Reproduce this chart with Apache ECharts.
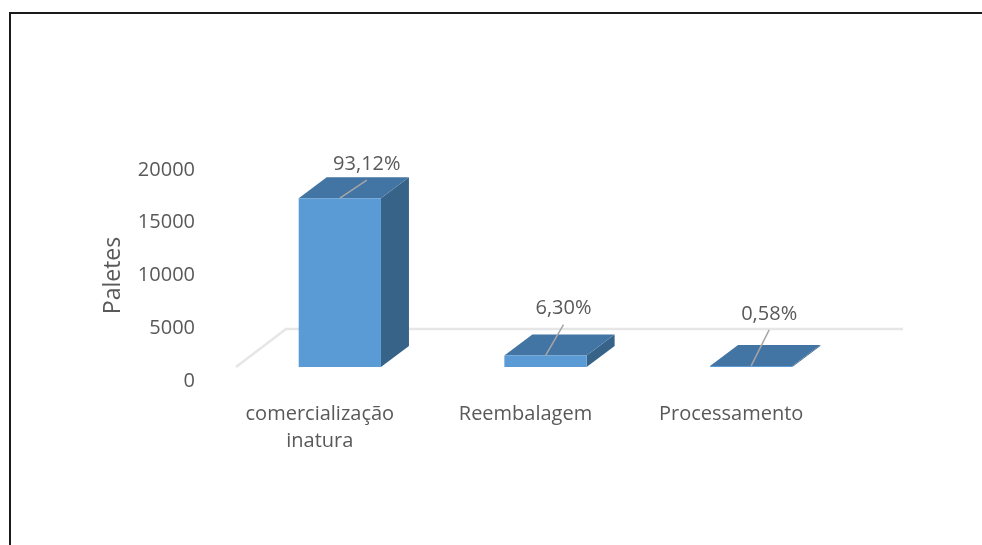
<!DOCTYPE html>
<html>
<head>
<meta charset="utf-8">
<style>html,body{margin:0;padding:0;background:#fff}#c{width:982px;height:545px}</style>
<script src="https://cdn.jsdelivr.net/npm/echarts@6/dist/echarts.min.js"></script>
</head>
<body>
<div id="c"></div>
<script>
const categories = ['comercialização\ninatura', 'Reembalagem', 'Processamento'];
const paletes = [16000, 1083, 100];
const shares = ['93,12%', '6,30%', '0,58%'];
const yTicks = [0, 5000, 10000, 15000, 20000];

// Drawing constants of the fake 3D projection (pixels relative to the scale's coordinates)
const FLOOR_LIFT = 14, DEPTH_X = 28, DEPTH_Y = 21, FLOOR_X = 49, FLOOR_Y = 38;
const LEADERS = [[27, -18], [18, -31], [18, -36]];
const TEXT_GAP = [16, 16, 16];
const FONT = '"Open Sans", sans-serif';
const TEXT = '#595959';

const chart = echarts.init(document.getElementById('c'), null, {renderer: 'canvas'});

function renderBar(params, api) {
  const i = api.value(0), v = api.value(1);
  const base = api.coord([i, 0]), top = api.coord([i, v]);
  const w = api.size([1, 0])[0] * 0.4;
  const x0 = base[0] - w / 2, x1 = base[0] + w / 2;
  const yb = base[1] - FLOOR_LIFT, yt = top[1] - FLOOR_LIFT;
  const L = LEADERS[i];
  const ex = base[0] + L[0], ey = yt + L[1];
  return {
    type: 'group',
    children: [
      {type: 'polygon', shape: {points: [[x1, yb], [x1 + DEPTH_X, yb - DEPTH_Y], [x1 + DEPTH_X, yt - DEPTH_Y], [x1, yt]]}, style: {fill: '#386389'}},
      {type: 'polygon', shape: {points: [[x0, yt], [x1, yt], [x1 + DEPTH_X, yt - DEPTH_Y], [x0 + DEPTH_X, yt - DEPTH_Y]]}, style: {fill: '#4375a4'}},
      {type: 'rect', shape: {x: x0, y: yt, width: w, height: yb - yt}, style: {fill: '#5b9bd5'}},
      {type: 'line', shape: {x1: base[0], y1: yt, x2: ex, y2: ey}, style: {stroke: '#a6a6a6', lineWidth: 1.5}},
      {type: 'text', style: {x: ex, y: ey - TEXT_GAP[i], text: shares[i], fill: TEXT, font: '20px ' + FONT, align: 'center', verticalAlign: 'middle'}}
    ]
  };
}

function renderFloor(params, api) {
  const cs = params.coordSys;
  const yf = cs.y + cs.height - FLOOR_LIFT;
  const x = cs.x - 1;
  return {
    type: 'polyline',
    shape: {points: [[x, yf], [x + FLOOR_X + 1, yf - FLOOR_Y], [cs.x + cs.width + FLOOR_X, yf - FLOOR_Y]]},
    style: {fill: 'none', stroke: '#e6e6e6', lineWidth: 2.5}
  };
}

chart.setOption({
  animation: false,
  backgroundColor: '#fff',
  textStyle: {fontFamily: FONT},
  grid: {left: 237, top: 170, width: 617, height: 211, containLabel: false},
  xAxis: {
    type: 'category',
    data: categories,
    axisLine: {show: false},
    axisTick: {show: false},
    axisLabel: {color: TEXT, fontSize: 20, fontFamily: FONT, margin: 20, lineHeight: 27, padding: [0, 40, 0, 0], interval: 0}
  },
  yAxis: {
    type: 'value',
    min: yTicks[0],
    max: yTicks[yTicks.length - 1],
    interval: yTicks[1],
    name: 'Paletes',
    nameLocation: 'middle',
    nameGap: 112,
    nameTextStyle: {color: TEXT, fontSize: 23, fontFamily: FONT},
    axisLine: {show: false},
    axisTick: {show: false},
    splitLine: {show: false},
    axisLabel: {color: TEXT, fontSize: 20, fontFamily: FONT, margin: 42, padding: [6, 0, 0, 0], formatter: v => String(v)}
  },
  graphic: [{
    type: 'polyline',
    silent: true,
    shape: {points: [[10, 546], [10, 13], [983, 13]]},
    style: {fill: 'none', stroke: '#1a1a1a', lineWidth: 2}
  }],
  series: [
    {type: 'custom', name: 'piso', coordinateSystem: 'cartesian2d', silent: true, z: 1, data: [[0, 0]], renderItem: renderFloor},
    {type: 'custom', name: 'Paletes', coordinateSystem: 'cartesian2d', z: 2,
      encode: {x: 0, y: 1},
      data: paletes.map((v, i) => [i, v]), renderItem: renderBar}
  ]
});
</script>
</body>
</html>
